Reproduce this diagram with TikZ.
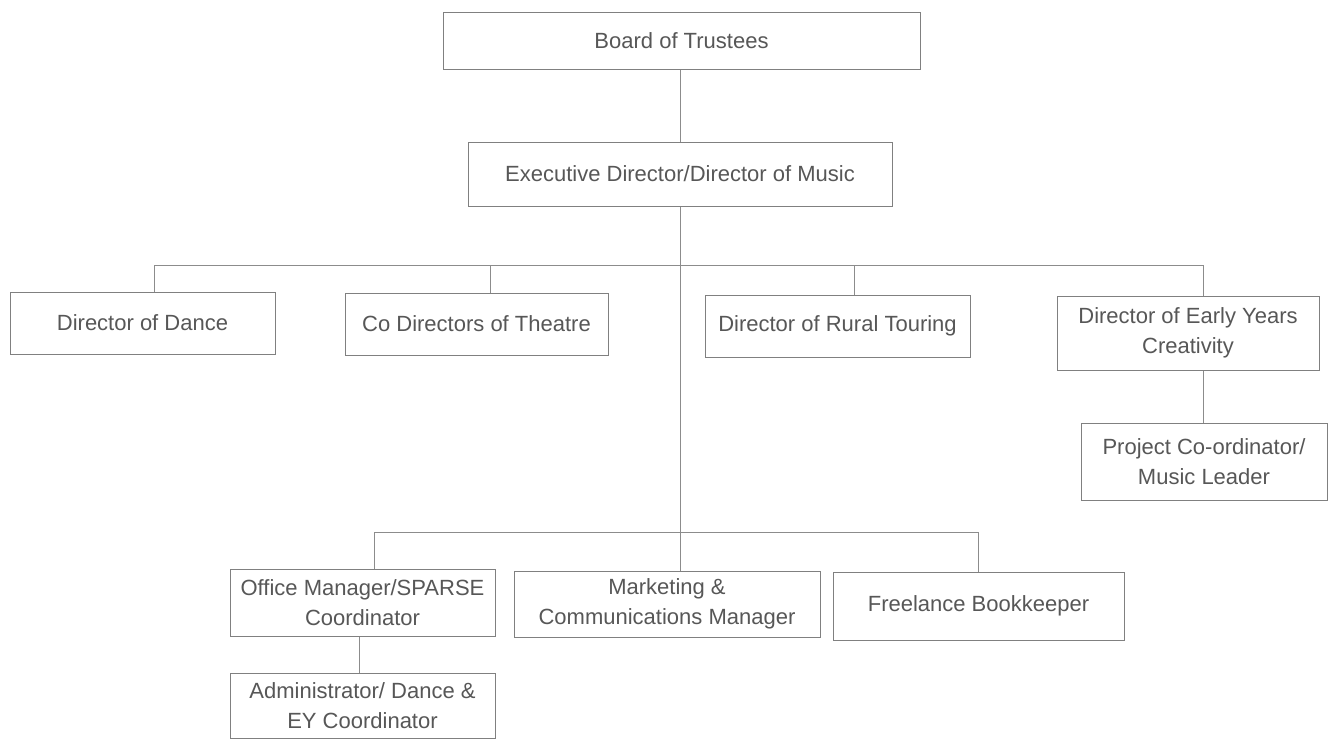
\documentclass[tikz,border=0pt]{standalone}
\usepackage{fontspec}
\setmainfont{Liberation Sans}
\begin{document}
\begin{tikzpicture}[x=1pt,y=-1pt]
\tikzset{
  box/.style={draw=black!50, line width=1pt, text=black!66, font=\fontsize{22}{30}\selectfont, align=center, inner sep=0pt},
  link/.style={draw=black!45, line width=1pt}
}
\useasboundingbox[fill=white] (0,0) rectangle (1328,740);
% nodes
\node[box, minimum width=477, minimum height=57] (board) at (681.5,40.5) {Board of Trustees};
\node[box, minimum width=424, minimum height=64] (exec) at (680,174) {Executive Director/Director of Music};
\node[box, minimum width=265, minimum height=62] (dance) at (142.5,323) {Director of Dance};
\node[box, minimum width=263, minimum height=62] (codir) at (476.5,324) {Co Directors of Theatre};
\node[box, minimum width=265, minimum height=62] (rural) at (837.5,326) {Director of Rural Touring};
\node[box, minimum width=262, minimum height=74] (early) at (1188,333) {Director of Early Years\\Creativity};
\node[box, minimum width=246, minimum height=77] (proj) at (1204,461.5) {Project Co-ordinator/\\Music Leader};
\node[box, minimum width=265, minimum height=67] (office) at (362.5,602.5) {Office Manager/SPARSE\\Coordinator};
\node[box, minimum width=306, minimum height=66] (mkt) at (667,604) {Marketing \&\\Communications Manager};
\node[box, minimum width=291, minimum height=68] (free) at (978.5,606) {Freelance Bookkeeper};
\node[box, minimum width=265, minimum height=65] (admin) at (362.5,705.5) {Administrator/ Dance \&\\EY Coordinator};
% bus coordinates
\coordinate (busL) at (154,265);
\coordinate (busC) at (490,265);
\coordinate (busM) at (854,265);
\coordinate (busR) at (1203,265);
\coordinate (lbL) at (374,532);
\coordinate (lbR) at (978,532);
\coordinate (oa) at (359,636);
% connectors
\draw[link] (exec.north |- board.south) -- (exec.north);
\draw[link] (exec.south) -- (exec.south |- mkt.north);
\draw[link] (busL) -- (busR);
\draw[link] (busL) -- (busL |- dance.north);
\draw[link] (busC) -- (busC |- codir.north);
\draw[link] (busM) -- (busM |- rural.north);
\draw[link] (busR) -- (busR |- early.north);
\draw[link] (busR |- early.south) -- (busR |- proj.north);
\draw[link] (lbL) -- (lbR);
\draw[link] (lbL) -- (lbL |- office.north);
\draw[link] (lbR) -- (lbR |- free.north);
\draw[link] (oa |- office.south) -- (oa |- admin.north);
\end{tikzpicture}
\end{document}
